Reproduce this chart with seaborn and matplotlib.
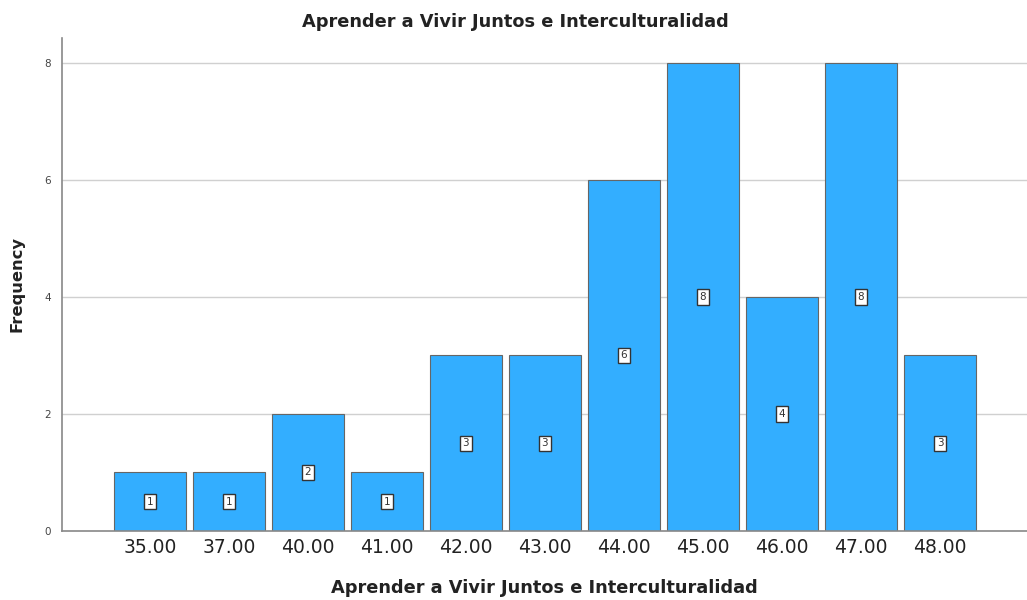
import matplotlib
matplotlib.use("Agg")
import matplotlib.pyplot as plt
import seaborn as sns
import pandas as pd

categories = ["35.00", "37.00", "40.00", "41.00", "42.00", "43.00", "44.00", "45.00", "46.00", "47.00", "48.00"]
frequencies = [1, 1, 2, 1, 3, 3, 6, 8, 4, 8, 3]
y_ticks = [0, 2, 4, 6, 8]
title = "Aprender a Vivir Juntos e Interculturalidad"

sns.set_theme(style="white")
plt.rcParams['font.family'] = ['DejaVu Sans']

df = pd.DataFrame({"cat": categories, "freq": frequencies})

fig = plt.figure(figsize=(10.27, 6.0), dpi=100)
ax = fig.add_axes([0.0604, 0.115, 0.9396, 0.822])

for t in y_ticks[1:]:
    ax.axhline(t, color="#d0d0d0", lw=1.0, zorder=0)

sns.barplot(data=df, x="cat", y="freq", color="#33aeff", saturation=1,
            width=0.91, edgecolor="#666666", linewidth=0.8, ax=ax, zorder=2)

for i, v in enumerate(frequencies):
    ax.text(i, v / 2, str(v), ha="center", va="center", fontsize=7.5, color="#333333",
            bbox=dict(boxstyle="square,pad=0.25", fc="white", ec="#333333", lw=1.0), zorder=3)

ax.set_xlim(-1.11, 11.1)
ax.set_ylim(0, 8.43)
ax.set_yticks(y_ticks)
ax.set_yticklabels([str(t) for t in y_ticks], fontsize=7.5, color="#444444")
ax.tick_params(axis="x", labelsize=13.5, colors="#222222", length=0, pad=5)
ax.tick_params(axis="y", length=0, pad=8)

for s in ["top", "right"]:
    ax.spines[s].set_visible(False)
for s in ["left", "bottom"]:
    ax.spines[s].set_color("#888888")
    ax.spines[s].set_linewidth(1.2)

ax.set_xlabel(title, fontsize=12.8, fontweight="bold", color="#222222", labelpad=16)
ax.set_ylabel("Frequency", fontsize=11.8, fontweight="bold", color="#222222", labelpad=14)
fig.text(0.502, 0.963, title, ha="center", va="center", fontsize=12.8, fontweight="bold", color="#222222")

fig.savefig("out.png", dpi=100)
